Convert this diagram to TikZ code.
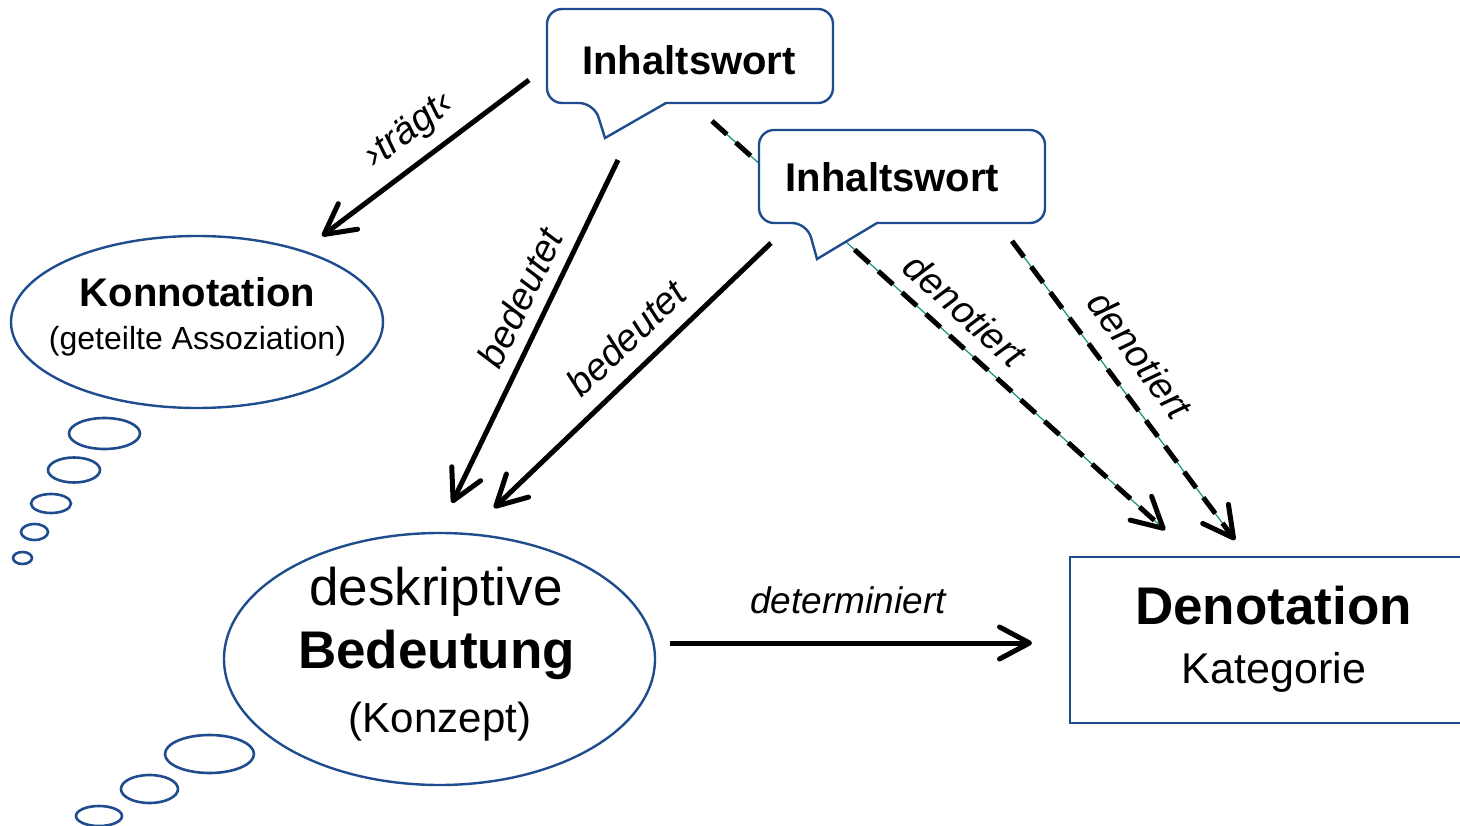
\documentclass[tikz,border=0pt]{standalone}
\usepackage{fontspec}
\setmainfont{Liberation Sans}
\usetikzlibrary{arrows.meta,shapes.geometric}
\definecolor{bl}{RGB}{31,76,140}
\definecolor{tl}{RGB}{20,145,125}
\begin{document}
\begin{tikzpicture}[x=1pt,y=-1pt,
  outl/.style={draw=bl,line width=2.4pt,fill=white},
  thought/.style={ellipse,draw=bl,line width=2.6pt,inner sep=0pt,fill=white},
  bigell/.style={ellipse,draw=bl,line width=2.4pt,inner sep=0pt},
  barb/.style={-{Straight Barb[length=30pt,width=32pt,round]}},
  conn/.style={line width=5pt,barb},
  dconn/.style={line width=5pt,dash pattern=on 20pt off 12pt,barb},
  green/.style={draw=tl,line width=1.2pt},
  lbl/.style={font=\fontsize{38}{40}\selectfont\itshape},
  txt/.style={anchor=base,inner sep=0pt},
]
\useasboundingbox (0,0) rectangle (1460,826);

% connector end points
\coordinate (trS) at (529,80);   \coordinate (trE) at (322,236);
\coordinate (b1S) at (618,160);  \coordinate (b1E) at (452,503);
\coordinate (b2S) at (771,243);  \coordinate (b2E) at (494,508);
\coordinate (d1S) at (712,121);  \coordinate (d1E) at (1165,530);
\coordinate (d2S) at (1012,241); \coordinate (d2E) at (1235,540);
\coordinate (dtS) at (670,643);  \coordinate (dtE) at (1032,643);

% dashed connectors (under the second bubble)
\draw[green] (d1S) -- (d1E);
\draw[dconn] (d1S) -- (d1E);
\draw[green] (d2S) -- (d2E);
\draw[dconn] (d2S) -- (d2E);

% speech bubbles
\filldraw[outl] (666,103) [rounded corners=15pt] -- (833,103) -- (833,9) -- (547,9) -- (547,103) -- (594,103) [sharp corners] -- (605,138) -- cycle;
\node[txt,font=\fontsize{40}{44}\selectfont\bfseries] (iw1) at (689,75) {Inhaltswort};

\filldraw[outl] (877,223) [rounded corners=15pt] -- (1045,223) -- (1045,130) -- (759,130) -- (759,223) -- (807,223) [sharp corners] -- (817,259) -- cycle;
\node[txt,font=\fontsize{40}{44}\selectfont\bfseries] (iw2) at (892.5,192) {Inhaltswort};

% Konnotation
\node[bigell,minimum width=372pt,minimum height=172pt] (konn) at (197,322) {};
\node[txt,font=\fontsize{40}{44}\selectfont\bfseries] (konnT) at (197.5,307) {Konnotation};
\node[txt,font=\fontsize{32}{35}\selectfont] (assT) at (197.5,350) {(geteilte Assoziation)};
\node[thought,minimum width=71pt,minimum height=31pt] (k1) at (104.5,433.5) {};
\node[thought,minimum width=52pt,minimum height=25pt] (k2) at (74,470) {};
\node[thought,minimum width=40pt,minimum height=19pt] (k3) at (51,503.5) {};
\node[thought,minimum width=27pt,minimum height=16pt] (k4) at (34.5,532) {};
\node[thought,minimum width=19pt,minimum height=12pt] (k5) at (22.5,558) {};

% deskriptive Bedeutung
\node[bigell,minimum width=431pt,minimum height=252pt] (bed) at (439.5,659) {};
\node[txt,font=\fontsize{53}{56}\selectfont] (desT) at (436,605) {deskriptive};
\node[txt,font=\fontsize{53}{56}\selectfont\bfseries] (bedT) at (436.5,668) {Bedeutung};
\node[txt,font=\fontsize{42}{46}\selectfont] (konzT) at (440,732) {(Konzept)};
\node[thought,minimum width=89pt,minimum height=38pt] (b1) at (209.5,754) {};
\node[thought,minimum width=57pt,minimum height=28pt] (b2) at (149.5,789) {};
\node[thought,minimum width=46pt,minimum height=20pt] (b3) at (99,816) {};

% Denotation
\node[draw=bl,line width=2.4pt,rectangle,minimum width=400pt,minimum height=166pt,inner sep=0pt] (den) at (1270,640) {};
\node[txt,font=\fontsize{53}{56}\selectfont\bfseries] (denT) at (1273.5,624) {Denotation};
\node[txt,font=\fontsize{43}{46}\selectfont] (katT) at (1274,683) {Kategorie};

% solid connectors
\draw[conn] (trS) -- (trE);
\draw[conn] (b1S) -- (b1E);
\draw[conn] (b2S) -- (b2E);
\draw[conn] (dtS) -- (dtE);

% labels
\node[lbl,rotate=37] (lTr) at (410,131) {›trägt‹};
\node[lbl,rotate=64] (lB1) at (520,298) {bedeutet};
\node[lbl,rotate=43.7] (lB2) at (626,338) {bedeutet};
\node[lbl,rotate=-42] (lD1) at (965,310) {denotiert};
\node[lbl,rotate=-53.4] (lD2) at (1140,355) {denotiert};
\node[txt,font=\fontsize{37}{40}\selectfont\itshape] (lDt) at (848,613) {determiniert};
\end{tikzpicture}
\end{document}
